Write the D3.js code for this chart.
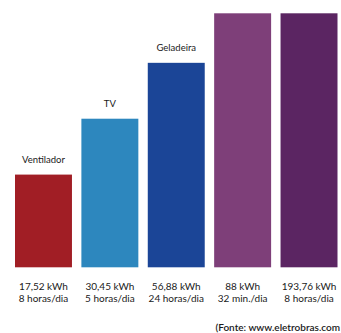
<!DOCTYPE html>
<html>
<head>
<meta charset="utf-8">
<script src="https://cdn.jsdelivr.net/npm/d3@7"></script>
<style>
  html, body { margin: 0; padding: 0; background: #ffffff; }
  svg { display: block; }
</style>
</head>
<body>
<svg id="chart" width="341" height="333"></svg>
<script>
// Data (bar heights are the visual levels, % of tallest visible bar)
const categories = ["Ventilador", "TV", "Geladeira", "Aparelho 4", "Aparelho 5"];
const topLabels  = ["Ventilador", "TV", "Geladeira", "", ""];
const barLevels  = [36.5, 58.5, 80.5, 100, 100];
const energyLabels = ["17,52 kWh", "30,45 kWh", "56,88 kWh", "88 kWh", "193,76 kWh"];
const usageLabels  = ["8 horas/dia", "5 horas/dia", "24 horas/dia", "32 min./dia", "8 horas/dia"];
const barColors    = ["#a11e25", "#2d87be", "#1b4597", "#7e3f79", "#5b2562"];
const sourceText   = "(Fonte: www.eletrobras.com";

const svg = d3.select("#chart");
const font = "Lato, 'Open Sans', sans-serif";

const x = d3.scaleBand()
  .domain(categories)
  .range([15, 337.5])
  .paddingInner(0.142)
  .paddingOuter(0);

const y = d3.scaleLinear()
  .domain([0, 100])
  .range([267.3, 13.3]);

const data = categories.map((c, i) => ({
  cat: c, top: topLabels[i], level: barLevels[i],
  e: energyLabels[i], u: usageLabels[i], color: barColors[i]
}));

svg.selectAll("rect.bar")
  .data(data)
  .join("rect")
  .attr("class", "bar")
  .attr("x", d => x(d.cat))
  .attr("y", d => y(d.level))
  .attr("width", x.bandwidth())
  .attr("height", d => y(0) - y(d.level))
  .attr("fill", d => d.color);

svg.selectAll("text.name")
  .data(data.filter(d => d.top))
  .join("text")
  .attr("class", "name")
  .attr("x", d => x(d.cat) + x.bandwidth() / 2)
  .attr("y", d => y(d.level) - 11.5)
  .attr("text-anchor", "middle")
  .attr("font-family", font)
  .attr("font-size", "9.5px")
  .attr("fill", "#1a1a1a")
  .text(d => d.top);

const lab = svg.selectAll("g.lab")
  .data(data)
  .join("g")
  .attr("class", "lab")
  .attr("transform", d => `translate(${x(d.cat) + x.bandwidth() / 2},0)`);

lab.append("text")
  .attr("y", 289.5)
  .attr("text-anchor", "middle")
  .attr("font-family", font)
  .attr("font-size", "10px")
  .attr("fill", "#1a1a1a")
  .text(d => d.e);

lab.append("text")
  .attr("y", 302)
  .attr("text-anchor", "middle")
  .attr("font-family", font)
  .attr("font-size", "10px")
  .attr("fill", "#1a1a1a")
  .text(d => d.u);

svg.append("text")
  .attr("x", 340)
  .attr("y", 330.5)
  .attr("text-anchor", "end")
  .attr("font-family", font)
  .attr("font-size", "10px")
  .attr("font-weight", 600)
  .attr("fill", "#1a1a1a")
  .text(sourceText);
</script>
</body>
</html>
